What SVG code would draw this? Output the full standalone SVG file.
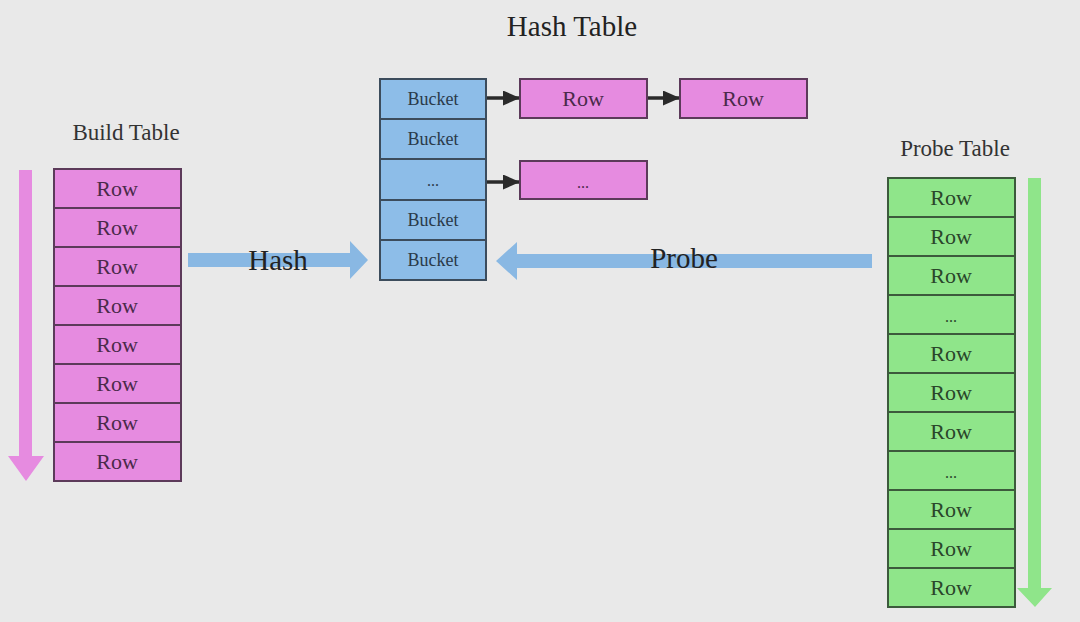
<svg xmlns="http://www.w3.org/2000/svg" width="1080" height="622" viewBox="0 0 1080 622">
<style>
text{font-family:"Liberation Serif","Times New Roman",serif;text-anchor:middle}
.pink{fill:#e68be0;stroke:#5c3a5a;stroke-width:2}
.blue{fill:#8dbde8;stroke:#3c4c5c;stroke-width:2}
.green{fill:#8fe58a;stroke:#3c5a3c;stroke-width:2}
.rt{font-size:22px;fill:#4a2a4a}
.gt{font-size:22px;fill:#2a462a}
.bt{font-size:18px;fill:#2a3a4a}
.dots{font-size:16px}
.lbl{font-size:23px;fill:#333}
.big{font-size:29px;fill:#222}
.link{stroke:#2a2a2a;stroke-width:3.5;fill:none;marker-end:url(#ah)}
</style>
<defs>
<marker id="ah" markerWidth="17" markerHeight="15" refX="17" refY="7.5" orient="auto" markerUnits="userSpaceOnUse"><path d="M0,0 L17,7.5 L0,15 Z" fill="#2a2a2a"/></marker>
</defs>
<rect width="1080" height="622" fill="#e9e9e9"/>
<text x="572" y="36" class="big">Hash Table</text>
<text x="126" y="140" class="lbl">Build Table</text>
<text x="955" y="156" class="lbl">Probe Table</text>

<g id="connectors">
<path d="M19,170 H32 V456 H44 L26,481 L8,456 H19 Z" fill="#e68be0"/>
<path d="M1028,178 H1041 V588 H1052 L1035,607 L1017,588 H1028 Z" fill="#8fe58a"/>
<path d="M188,253 H350 V241 L368,260 L350,279 V267 H188 Z" fill="#89b8e3"/>
<path d="M872,254 H517 V242 L496,261 L517,280 V268 H872 Z" fill="#89b8e3"/>
<line x1="487" y1="98" x2="520" y2="98" class="link"/>
<line x1="648" y1="98" x2="680" y2="98" class="link"/>
<line x1="487" y1="182" x2="520" y2="182" class="link"/>
<text x="278" y="270" class="big">Hash</text>
<text x="684" y="268" class="big">Probe</text>
</g>

<g id="build-table">
<rect x="54" y="169" width="127" height="39" class="pink"/><text x="117" y="196" class="rt">Row</text>
<rect x="54" y="208" width="127" height="39" class="pink"/><text x="117" y="235" class="rt">Row</text>
<rect x="54" y="247" width="127" height="39" class="pink"/><text x="117" y="274" class="rt">Row</text>
<rect x="54" y="286" width="127" height="39" class="pink"/><text x="117" y="313" class="rt">Row</text>
<rect x="54" y="325" width="127" height="39" class="pink"/><text x="117" y="352" class="rt">Row</text>
<rect x="54" y="364" width="127" height="39" class="pink"/><text x="117" y="391" class="rt">Row</text>
<rect x="54" y="403" width="127" height="39" class="pink"/><text x="117" y="430" class="rt">Row</text>
<rect x="54" y="442" width="127" height="39" class="pink"/><text x="117" y="469" class="rt">Row</text>
</g>

<g id="hash-table">
<rect x="380" y="79" width="106" height="40" class="blue"/><text x="433" y="105" class="bt">Bucket</text>
<rect x="380" y="119" width="106" height="40" class="blue"/><text x="433" y="145" class="bt">Bucket</text>
<rect x="380" y="159" width="106" height="41" class="blue"/><text x="433" y="186" class="bt dots">...</text>
<rect x="380" y="200" width="106" height="40" class="blue"/><text x="433" y="226" class="bt">Bucket</text>
<rect x="380" y="240" width="106" height="40" class="blue"/><text x="433" y="266" class="bt">Bucket</text>
</g>

<g id="row-1">
<rect x="520" y="79" width="127" height="39" class="pink"/><text x="583" y="106" class="rt">Row</text>
</g>
<g id="row-2">
<rect x="680" y="79" width="127" height="39" class="pink"/><text x="743" y="106" class="rt">Row</text>
</g>
<g id="row-3">
<rect x="520" y="161" width="127" height="38" class="pink"/><text x="583" y="188" class="rt dots">...</text>
</g>

<g id="probe-table">
<rect x="888" y="178" width="127" height="39" class="green"/><text x="951" y="205" class="gt">Row</text>
<rect x="888" y="217" width="127" height="39" class="green"/><text x="951" y="244" class="gt">Row</text>
<rect x="888" y="256" width="127" height="39" class="green"/><text x="951" y="283" class="gt">Row</text>
<rect x="888" y="295" width="127" height="39" class="green"/><text x="951" y="322" class="gt dots">...</text>
<rect x="888" y="334" width="127" height="39" class="green"/><text x="951" y="361" class="gt">Row</text>
<rect x="888" y="373" width="127" height="39" class="green"/><text x="951" y="400" class="gt">Row</text>
<rect x="888" y="412" width="127" height="39" class="green"/><text x="951" y="439" class="gt">Row</text>
<rect x="888" y="451" width="127" height="39" class="green"/><text x="951" y="478" class="gt dots">...</text>
<rect x="888" y="490" width="127" height="39" class="green"/><text x="951" y="517" class="gt">Row</text>
<rect x="888" y="529" width="127" height="39" class="green"/><text x="951" y="556" class="gt">Row</text>
<rect x="888" y="568" width="127" height="39" class="green"/><text x="951" y="595" class="gt">Row</text>
</g>
</svg>
